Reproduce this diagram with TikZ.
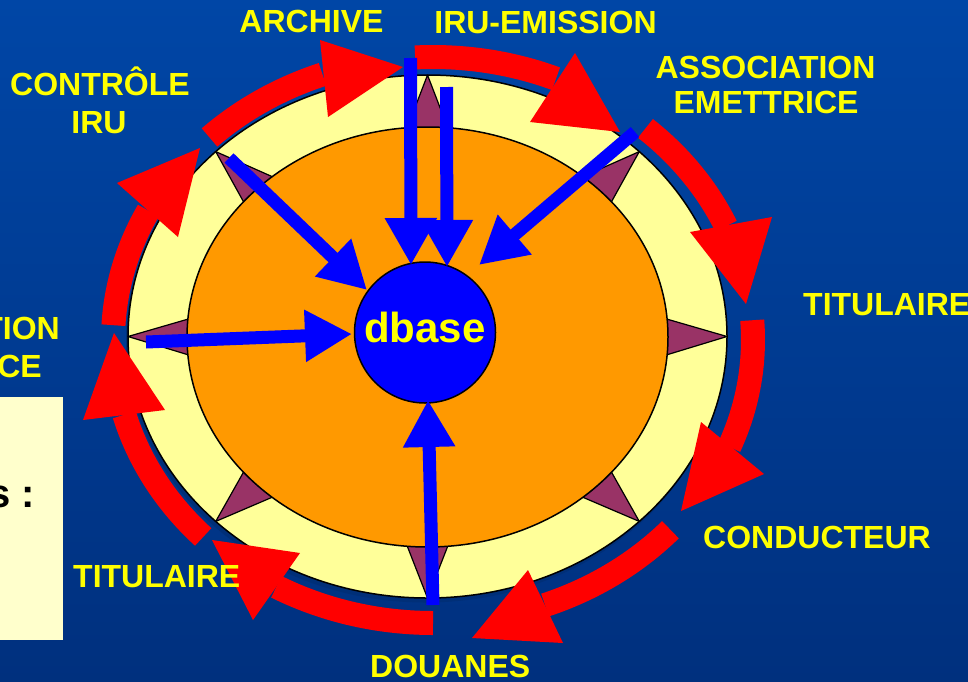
\documentclass[tikz,border=0pt]{standalone}
\usepackage{fontspec}
\setmainfont{Liberation Sans}
\usetikzlibrary{arrows.meta}
\definecolor{bgtop}{HTML}{0046A6}
\definecolor{bgmid}{HTML}{0054BC}
\definecolor{bgbot}{HTML}{00307E}
\definecolor{shadowc}{HTML}{002F78}
\definecolor{redc}{HTML}{FF0000}
\definecolor{bluec}{HTML}{0000FF}
\definecolor{orangec}{HTML}{FF9900}
\definecolor{paley}{HTML}{FFFF99}
\definecolor{maroon}{HTML}{993366}
\definecolor{texty}{HTML}{FFFF00}
\definecolor{boxc}{HTML}{FFFFCC}
\begin{document}
\begin{tikzpicture}[x=1pt,y=-1pt,
  redband/.style={draw=redc, line width=24pt, line cap=butt, line join=round},
  redhead/.style={fill=redc},
  bluearrow/.style={draw=bluec, line width=13pt, -{Triangle[length=47pt,width=49pt]}},
  tri/.style={fill=maroon, draw=black, line width=1.2pt, line join=round},
  lbl/.style={text=texty, font=\fontsize{32}{36}\selectfont\bfseries, inner sep=0pt}
]
\useasboundingbox (0,0) rectangle (968,681);
\shade[top color=bgtop, middle color=bgmid, bottom color=bgbot] (0,0) rectangle (968,681);

% rings
\fill[shadowc] (425.5,341) ellipse[x radius=299.5, y radius=261.5];
\filldraw[fill=paley, draw=black, line width=1.5pt] (427.5,336.5) ellipse[x radius=299.5, y radius=261.5];
\foreach \a in {0,45,...,315}{
  \filldraw[tri] ({427.5+299.5*cos(\a)},{336.5+261.5*sin(\a)})
     -- ({427.5+232*cos(\a-5.8)},{337+202*sin(\a-5.8)})
     -- ({427.5+232*cos(\a+5.8)},{337+202*sin(\a+5.8)}) -- cycle;
}
\filldraw[fill=orangec, draw=black, line width=1.5pt] (427.5,337) ellipse[x radius=240.5, y radius=210];

% red cycle arrows
\draw[redband] plot[domain=225.7:249.8, samples=30] ({433+320*cos(\x)},{340+283*sin(\x)});
\fill[redhead] (320,40) -- (403,67) -- (328,117) -- cycle;
\draw[redband] plot[domain=266.8:292.6, samples=30] ({433+320*cos(\x)},{340+283*sin(\x)});
\fill[redhead] (575,53) -- (620,132) -- (530,122) -- cycle;
\draw[redband] plot[domain=311.6:336.3, samples=30] ({433+320*cos(\x)},{340+283*sin(\x)});
\fill[redhead] (690,232) -- (772,217) -- (746,304) -- cycle;
\draw[redband] plot[domain=356:382.2, samples=30] ({433+320*cos(\x)},{340+283*sin(\x)});
\fill[redhead] (701,422) -- (764,474) -- (681,511) -- cycle;
\draw[redband] plot[domain=42.1:69.5, samples=30] ({433+320*cos(\x)},{340+283*sin(\x)});
\fill[redhead] (528,570) -- (563,643) -- (472,638) -- cycle;
\draw[redband] plot[domain=90:119.3, samples=30] ({433+320*cos(\x)},{340+283*sin(\x)});
\fill[redhead] (300,553) -- (253,620) -- (212,540) -- cycle;
\draw[redband] plot[domain=135.9:164.7, samples=30] ({433+320*cos(\x)},{340+283*sin(\x)});
\fill[redhead] (83,420) -- (165,410) -- (114,333) -- cycle;
\draw[redband] plot[domain=183:207.2, samples=30] ({433+320*cos(\x)},{340+283*sin(\x)});
\fill[redhead] (117,183) -- (200,148) -- (178,237) -- cycle;

% centre
\node[circle, draw=black, line width=1.5pt, fill=bluec, minimum size=141pt, inner sep=0pt,
      text=texty, font=\fontsize{42}{46}\selectfont\bfseries, text depth=11pt] (dbase) at (425,332.5) {dbase};

% blue arrows into dbase
\coordinate (tA) at (410.5,58);  \coordinate (hA) at (411,265);
\coordinate (tB) at (446.5,87);  \coordinate (hB) at (447,267);
\coordinate (tC) at (635,132);   \coordinate (hC) at (479,265);
\coordinate (tD) at (229,158);   \coordinate (hD) at (367,290);
\coordinate (tE) at (146,342);   \coordinate (hE) at (352,334);
\coordinate (tF) at (433,605);   \coordinate (hF) at (428,400);
\draw[bluearrow] (tA) -- (hA);
\draw[bluearrow] (tB) -- (hB);
\draw[bluearrow] (tC) -- (hC);
\draw[bluearrow] (tD) -- (hD);
\draw[bluearrow] (tE) -- (hE);
\draw[bluearrow] (tF) -- (hF);

% left box
\fill[boxc] (0,397) rectangle (63,640);
\node[anchor=base east, inner sep=0pt, font=\fontsize{40}{44}\selectfont\bfseries, text=black] (boxtxt) at (35,507) {s :};

% labels
\node[lbl, anchor=base] (archive) at (311.5,32) {ARCHIVE};
\node[lbl, anchor=base] (iruem) at (545.5,33) {IRU-EMISSION};
\node[lbl, anchor=base] (assoc1) at (765.5,78) {ASSOCIATION};
\node[lbl, anchor=base] (assoc2) at (766,113) {EMETTRICE};
\node[lbl, anchor=base] (ctrl1) at (100,95) {CONTRÔLE};
\node[lbl, anchor=base] (ctrl2) at (99,133) {IRU};
\node[lbl, anchor=base west] (titr) at (803,315) {TITULAIRE};
\node[lbl, anchor=base west] (cond) at (703,548) {CONDUCTEUR};
\node[lbl, anchor=base west] (douanes) at (370,677) {DOUANES};
\node[lbl, anchor=base west] (titl) at (73,587) {TITULAIRE};
\node[lbl, anchor=base east] (tion) at (60,339) {TION};
\node[lbl, anchor=base east] (ce) at (42,377) {CE};
\end{tikzpicture}
\end{document}
